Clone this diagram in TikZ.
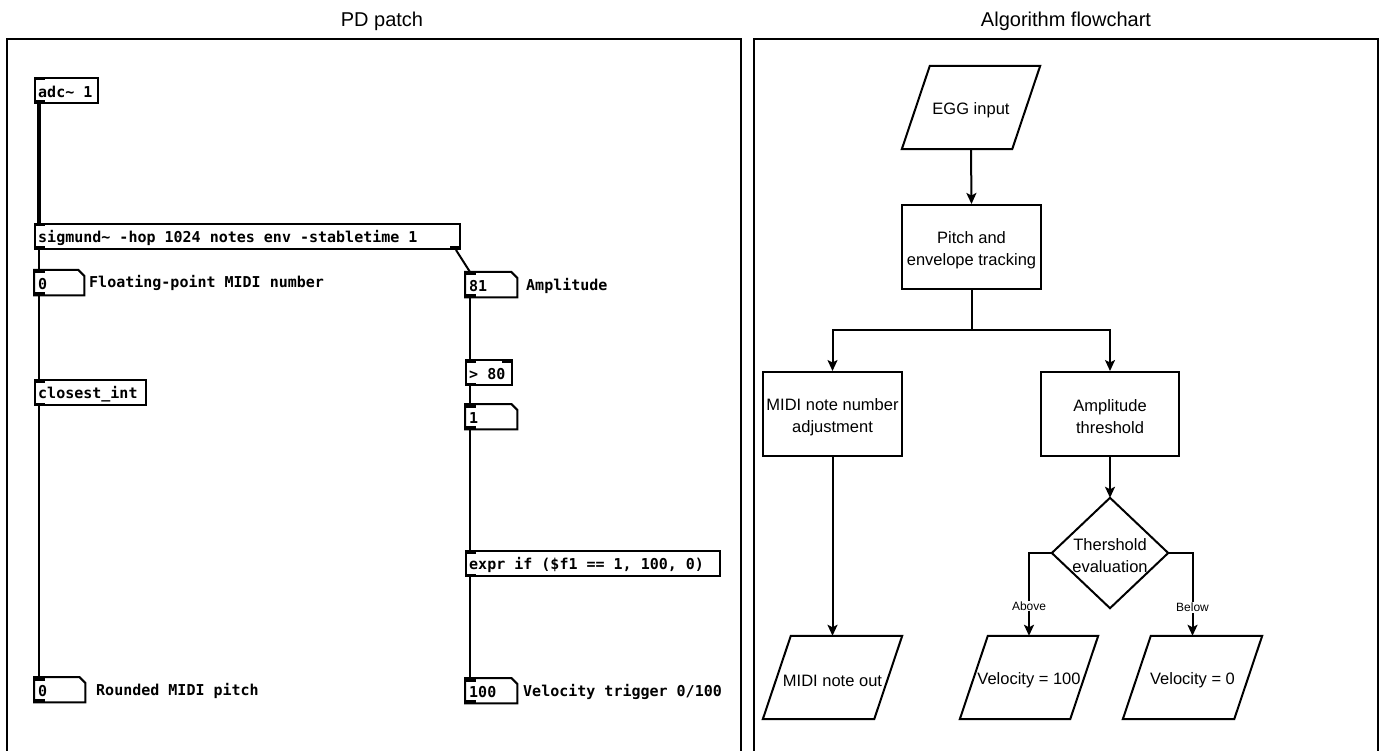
\documentclass[tikz,border=0pt]{standalone}
\usepackage{fontspec}
\setmainfont{Liberation Sans}
\newfontfamily\pdmono{DejaVu Sans Mono}
\usetikzlibrary{arrows.meta}

% Pd object helpers: outline of a number box, inlet and outlet marks
\newcommand\numoutline[1]{\draw[pdline] (#1.north west) -- ([xshift=-6pt]#1.north east) -- ([yshift=-6pt]#1.north east) -- (#1.south east) -- (#1.south west) -- cycle;}
\newcommand\pdin[1]{\fill (#1.north west) rectangle ++(11,3.5);}
\newcommand\pdinright[1]{\fill (#1.north east) rectangle ++(-11,3.5);}
\newcommand\pdout[1]{\fill (#1.south west) rectangle ++(11,-3.5);}
\newcommand\pdoutright[1]{\fill (#1.south east) rectangle ++(-11,-3.5);}

\begin{document}
\begin{tikzpicture}[x=1pt,y=-1pt,
  panel/.style={draw, line width=2.2pt},
  heading/.style={font=\fontsize{20}{24}\selectfont},
  pdline/.style={line width=2pt},
  pdfont/.style={font=\pdmono\bfseries\fontsize{15}{18}\selectfont},
  pdbox/.style={draw, pdline, anchor=north west, inner sep=0pt, minimum height=25pt},
  numbox/.style={anchor=north west, inner sep=0pt, minimum height=25pt},
  pdtext/.style={pdfont, anchor=west, inner sep=0pt, xshift=4pt, yshift=-1.5pt},
  comment/.style={pdfont, anchor=west, inner sep=0pt},
  sigwire/.style={line width=3.8pt},
  ctlwire/.style={line width=2pt},
  fctext/.style={font=\fontsize{16.5}{22}\selectfont, align=center, inner sep=0pt, yshift=-3pt},
  process/.style={draw, line width=2pt, minimum width=139pt, minimum height=84pt},
  iobox/.style={minimum width=139pt, minimum height=83pt},
  para/.style={line width=2pt},
  flow/.style={line width=2pt, -{Stealth[length=11pt,width=10pt,inset=2.5pt]}},
  edgelabel/.style={font=\fontsize{12}{14}\selectfont, fill=white, inner sep=1pt}
]
\useasboundingbox (0,0) rectangle (1384,751);

% ---------- panels ----------
\draw[panel] (7,760) -- (7,39) -- (741,39) -- (741,760);
\draw[panel] (754,760) -- (754,39) -- (1378,39) -- (1378,760);
\node[heading] (tleft) at (382,21) {PD patch};
\node[heading] (tright) at (1066,21) {Algorithm flowchart};

% ---------- Pd patch: object and number boxes ----------
\node[pdbox, minimum width=63pt] (adc) at (34,77) {};
\node[pdbox, minimum width=425pt] (sig) at (34,223) {};
\node[numbox, minimum width=50pt] (fmidi) at (34,270) {};
\node[pdbox, minimum width=111pt] (cint) at (34,379) {};
\node[numbox, minimum width=51pt] (rmidi) at (34,677) {};
\node[numbox, minimum width=52pt] (amp) at (465,272) {};
\node[pdbox, minimum width=46pt] (gt) at (465,359) {};
\node[numbox, minimum width=52pt] (gate) at (465,404) {};
\node[pdbox, minimum width=254pt] (expr) at (465,550) {};
\node[numbox, minimum width=52pt] (vel) at (465,678) {};

% box contents
\node[pdtext] (adct) at (adc.west) {adc\char`~{} 1};
\node[pdtext] (sigt) at (sig.west) {sigmund\char`~{} -hop 1024 notes env -stabletime 1};
\node[pdtext] (fmidit) at (fmidi.west) {0};
\node[pdtext] (cintt) at (cint.west) {closest\_int};
\node[pdtext] (rmidit) at (rmidi.west) {0};
\node[pdtext] (ampt) at (amp.west) {81};
\node[pdtext] (gtt) at (gt.west) {> 80};
\node[pdtext] (gatet) at (gate.west) {1};
\node[pdtext] (exprt) at (expr.west) {expr if (\$f1 == 1, 100, 0)};
\node[pdtext] (velt) at (vel.west) {100};

% comments
\node[comment] (cfmidi) at (89,283) {Floating-point MIDI number};
\node[comment] (crmidi) at (96,691) {Rounded MIDI pitch};
\node[comment] (camp) at (526,286) {Amplitude};
\node[comment] (cvel) at (523,692) {Velocity trigger 0/100};

\numoutline{fmidi}
\numoutline{rmidi}
\numoutline{amp}
\numoutline{gate}
\numoutline{vel}

% inlets and outlets
\pdin{adc} \pdout{adc}
\pdin{sig} \pdout{sig} \pdoutright{sig}
\pdin{fmidi} \pdout{fmidi}
\pdin{cint} \pdout{cint}
\pdin{rmidi} \pdout{rmidi}
\pdin{amp} \pdout{amp}
\pdin{gt} \pdinright{gt} \pdout{gt}
\pdin{gate} \pdout{gate}
\pdin{expr} \pdout{expr}
\pdin{vel} \pdout{vel}

% connections
\draw[sigwire] ([xshift=5pt]adc.south west) -- ([xshift=5pt]sig.north west);
\draw[ctlwire] ([xshift=5pt]sig.south west) -- ([xshift=5pt]fmidi.north west);
\draw[ctlwire] ([xshift=5pt]fmidi.south west) -- ([xshift=5pt]cint.north west);
\draw[ctlwire] ([xshift=5pt]cint.south west) -- ([xshift=5pt]rmidi.north west);
\draw[ctlwire] ([xshift=-5pt]sig.south east) -- ([xshift=5pt]amp.north west);
\draw[ctlwire] ([xshift=5pt]amp.south west) -- ([xshift=5pt]gt.north west);
\draw[ctlwire] ([xshift=5pt]gt.south west) -- ([xshift=5pt]gate.north west);
\draw[ctlwire] ([xshift=5pt]gate.south west) -- ([xshift=5pt]expr.north west);
\draw[ctlwire] ([xshift=5pt]expr.south west) -- ([xshift=5pt]vel.north west);

% ---------- flowchart: shapes ----------
\node[iobox, minimum width=138pt] (egg) at (971,107.5) {};
\node[process] (track) at (971.5,247) {};
\node[process] (adj) at (832.5,414) {};
\node[process, minimum width=138pt] (thresh) at (1110,414) {};
\node[minimum width=116pt, minimum height=110pt] (eval) at (1110,553) {};
\node[iobox] (midiout) at (832.5,677.5) {};
\node[iobox, minimum width=138pt] (v100) at (1029,677.5) {};
\node[iobox] (v0) at (1192.5,677.5) {};

% parallelograms and the decision diamond
\foreach \n in {egg, midiout, v100, v0}
  \draw[para] ([xshift=28pt]\n.north west) -- (\n.north east) -- ([xshift=-28pt]\n.south east) -- (\n.south west) -- cycle;
\draw[para] (eval.north) -- (eval.east) -- (eval.south) -- (eval.west) -- cycle;

% ---------- flowchart: texts ----------
\node[fctext] (eggt) at (egg.center) {EGG input};
\node[fctext] (trackt) at (track.center) {Pitch and\\envelope tracking};
\node[fctext] (adjt) at (adj.center) {MIDI note number\\adjustment};
\node[fctext] (thresht) at (thresh.center) {Amplitude\\threshold};
\node[fctext] (evalt) at (eval.center) {Thershold\\evaluation};
\node[fctext] (midioutt) at (midiout.center) {MIDI note out};
\node[fctext] (v100t) at (v100.center) {Velocity = 100};
\node[fctext] (v0t) at (v0.center) {Velocity = 0};

% ---------- flowchart: connectors ----------
\draw[flow] (egg.south) -- (track.north);
\draw[flow] (track.south) -- ++(0,40) -| (adj.north);
\draw[flow] (track.south) -- ++(0,40) -| (thresh.north);
\draw[flow] (adj.south) -- (midiout.north);
\draw[flow] (thresh.south) -- (eval.north);
\draw[flow] (eval.west) -| node[edgelabel, pos=0.82] {Above} (v100.north);
\draw[flow] (eval.east) -| node[edgelabel, pos=0.83] {Below} (v0.north);
\end{tikzpicture}
\end{document}
